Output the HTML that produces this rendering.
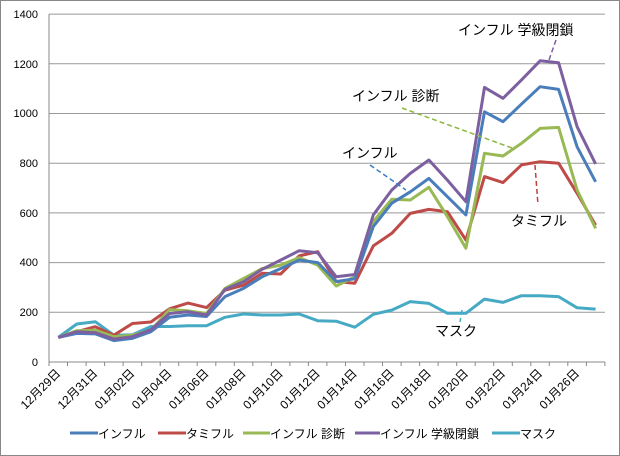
<!DOCTYPE html>
<html><head><meta charset="utf-8"><style>
html,body{margin:0;padding:0;background:#fff;}
svg{display:block;font-family:"Liberation Sans","Noto Sans CJK JP",sans-serif;}
</style></head><body>
<svg width="620" height="456" viewBox="0 0 620 456" xmlns="http://www.w3.org/2000/svg">
<rect x="0.5" y="0.5" width="619" height="455" fill="#fff" stroke="#888"/>
<g stroke="#999" stroke-width="1">
<line x1="49" x2="605" y1="312.3" y2="312.3"/>
<line x1="49" x2="605" y1="262.6" y2="262.6"/>
<line x1="49" x2="605" y1="212.9" y2="212.9"/>
<line x1="49" x2="605" y1="163.2" y2="163.2"/>
<line x1="49" x2="605" y1="113.5" y2="113.5"/>
<line x1="49" x2="605" y1="63.8" y2="63.8"/>
<line x1="49" x2="605" y1="14.1" y2="14.1"/>
</g>
<line x1="49" x2="49" y1="14" y2="362" stroke="#888"/>
<line x1="49" x2="605" y1="362" y2="362" stroke="#888"/>
<path stroke="#888" d="M49 362v4M67.5 362v4M86.1 362v4M104.6 362v4M123.1 362v4M141.7 362v4M160.2 362v4M178.7 362v4M197.2 362v4M215.8 362v4M234.3 362v4M252.8 362v4M271.4 362v4M289.9 362v4M308.4 362v4M326.9 362v4M345.5 362v4M364 362v4M382.5 362v4M401.1 362v4M419.6 362v4M438.1 362v4M456.7 362v4M475.2 362v4M493.7 362v4M512.3 362v4M530.8 362v4M549.3 362v4M567.8 362v4M586.4 362v4M604.9 362v4"/>
<g font-size="11" fill="#000" text-anchor="end">
<text x="38" y="366">0</text><text x="38" y="316">200</text><text x="38" y="266">400</text>
<text x="38" y="217">600</text><text x="38" y="167">800</text><text x="38" y="117">1000</text>
<text x="38" y="68">1200</text><text x="38" y="18">1400</text>
</g>
<g font-size="12" fill="#000" text-anchor="end">
<text x="61.3" y="374" transform="rotate(-45 61.3 374)">12月29日</text>
<text x="98.3" y="374" transform="rotate(-45 98.3 374)">12月31日</text>
<text x="135.4" y="374" transform="rotate(-45 135.4 374)">01月02日</text>
<text x="172.5" y="374" transform="rotate(-45 172.5 374)">01月04日</text>
<text x="209.5" y="374" transform="rotate(-45 209.5 374)">01月06日</text>
<text x="246.6" y="374" transform="rotate(-45 246.6 374)">01月08日</text>
<text x="283.7" y="374" transform="rotate(-45 283.7 374)">01月10日</text>
<text x="320.7" y="374" transform="rotate(-45 320.7 374)">01月12日</text>
<text x="357.8" y="374" transform="rotate(-45 357.8 374)">01月14日</text>
<text x="394.8" y="374" transform="rotate(-45 394.8 374)">01月16日</text>
<text x="431.9" y="374" transform="rotate(-45 431.9 374)">01月18日</text>
<text x="469" y="374" transform="rotate(-45 469 374)">01月20日</text>
<text x="506" y="374" transform="rotate(-45 506 374)">01月22日</text>
<text x="543.1" y="374" transform="rotate(-45 543.1 374)">01月24日</text>
<text x="580.1" y="374" transform="rotate(-45 580.1 374)">01月26日</text>
</g>
<g fill="none" stroke-width="3" stroke-linejoin="round">
<polyline stroke="#46aac5" points="58.3,337.4 76.8,324 95.3,321.7 113.9,335.2 132.4,334.7 150.9,326.5 169.5,326.5 188,325.7 206.5,325.7 225,317.3 243.6,314 262.1,315 280.6,315 299.2,314 317.7,320.7 336.2,321.2 354.8,327.2 373.3,314.3 391.8,310.1 410.3,301.6 428.9,303.4 447.4,313.3 465.9,313.3 484.5,299.1 503,302.4 521.5,295.7 540.1,295.7 558.6,296.6 577.1,307.8 595.6,309.1"/>
<polyline stroke="#be4b48" points="58.3,337.4 76.8,331.7 95.3,326.7 113.9,335.2 132.4,323.5 150.9,322 169.5,308.8 188,303.1 206.5,307.6 225,290.2 243.6,285.2 262.1,273.3 280.6,274 299.2,255.9 317.7,251.7 336.2,281.5 354.8,283.2 373.3,245.9 391.8,233.3 410.3,213.4 428.9,209.4 447.4,211.7 465.9,240 484.5,176.6 503,182.6 521.5,164.9 540.1,161.7 558.6,163.2 577.1,193.3 595.6,225.1"/>
<polyline stroke="#98b954" points="58.3,337.4 76.8,330.7 95.3,330.2 113.9,336.7 132.4,335.2 150.9,330.2 169.5,309.6 188,310.8 206.5,313.5 225,288.4 243.6,278.5 262.1,268.6 280.6,265.1 299.2,257.6 317.7,265.1 336.2,286 354.8,276.8 373.3,221.6 391.8,199.2 410.3,200 428.9,187.3 447.4,216.6 465.9,248.2 484.5,153.3 503,156 521.5,143.3 540.1,128.4 558.6,127.4 577.1,190 595.6,228.3"/>
<polyline stroke="#4a7ebb" points="58.3,337.4 76.8,333.4 95.3,333.9 113.9,340.6 132.4,338.4 150.9,331.7 169.5,317.3 188,315 206.5,316.5 225,296.6 243.6,288.4 262.1,276.8 280.6,268.6 299.2,260.1 317.7,262.6 336.2,281.5 354.8,278.8 373.3,226.6 391.8,203.2 410.3,191.8 428.9,178.4 447.4,196.7 465.9,214.9 484.5,111.8 503,121.7 521.5,104.1 540.1,86.7 558.6,89.4 577.1,146.8 595.6,181.8"/>
<polyline stroke="#7d60a0" points="58.3,337.4 76.8,331.7 95.3,332.7 113.9,339.1 132.4,336.7 150.9,329.7 169.5,313.5 188,311.8 206.5,315 225,289.4 243.6,281.7 262.1,269.3 280.6,260.1 299.2,250.7 317.7,252.7 336.2,276.8 354.8,274.5 373.3,214.9 391.8,190 410.3,173.4 428.9,160 447.4,180.1 465.9,201.7 484.5,87.4 503,98.3 521.5,79.9 540.1,60.8 558.6,62.8 577.1,126.7 595.6,163.9"/>
</g>
<g font-size="14" fill="#000">
<text x="458" y="35">インフル 学級閉鎖</text>
<text x="352" y="101">インフル 診断</text>
<text x="342" y="158">インフル</text>
<text x="511" y="226">タミフル</text>
<text x="435" y="336">マスク</text>
</g>
<g stroke-width="1.5" stroke-dasharray="5,3">
<line x1="556" y1="40" x2="549" y2="60" stroke="#7f5ba6"/>
<line x1="402" y1="108" x2="512" y2="148" stroke="#8ab83c"/>
<line x1="370" y1="165" x2="406" y2="190" stroke="#3a7cc8"/>
<line x1="535" y1="165" x2="538" y2="205" stroke="#c0403a"/>
<line x1="462" y1="310" x2="460" y2="322" stroke="#3fb0cc"/>
</g>
<g font-size="12" fill="#000">
<line x1="70" x2="98" y1="433" y2="433" stroke="#4a7ebb" stroke-width="3"/><text x="98" y="438">インフル</text>
<line x1="158" x2="186" y1="433" y2="433" stroke="#be4b48" stroke-width="3"/><text x="186" y="438">タミフル</text>
<line x1="243" x2="270" y1="433" y2="433" stroke="#98b954" stroke-width="3"/><text x="270" y="438">インフル 診断</text>
<line x1="355" x2="380" y1="433" y2="433" stroke="#7d60a0" stroke-width="3"/><text x="380" y="438">インフル 学級閉鎖</text>
<line x1="492" x2="520" y1="433" y2="433" stroke="#46aac5" stroke-width="3"/><text x="520" y="438">マスク</text>
</g>
</svg>
</body></html>
